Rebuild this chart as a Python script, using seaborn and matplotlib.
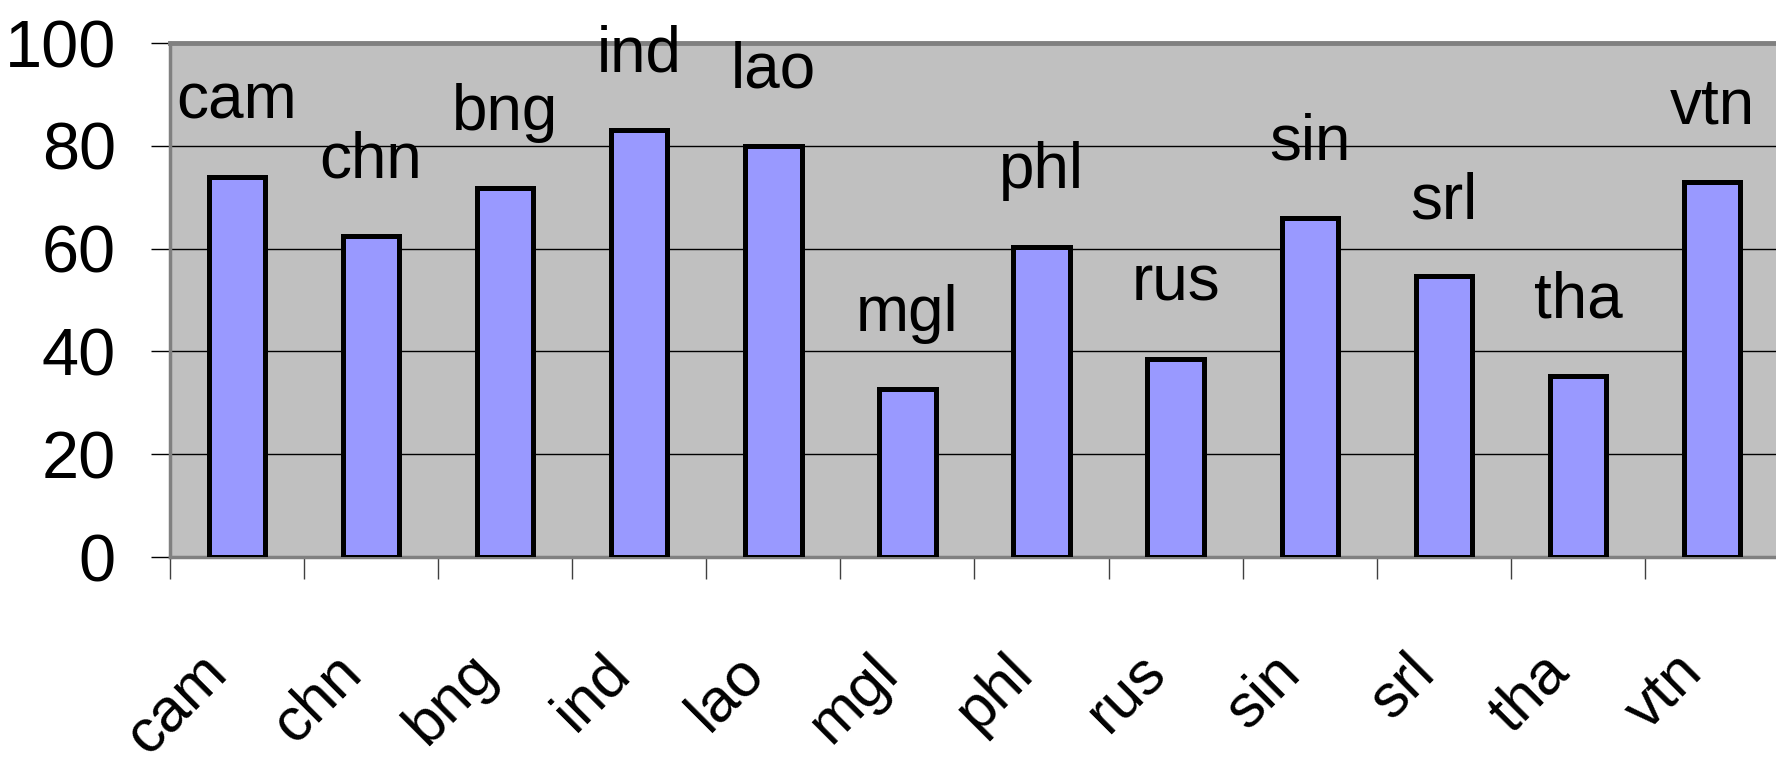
import matplotlib
matplotlib.use("Agg")
import matplotlib.pyplot as plt
import matplotlib.transforms as mtransforms
import seaborn as sns
import pandas as pd

# Data
countries = ["cam", "chn", "bng", "ind", "lao", "mgl", "phl", "rus", "sin", "srl", "tha", "vtn"]
values = [74.0, 62.5, 71.7, 83.1, 79.9, 32.7, 60.4, 38.5, 65.9, 54.6, 35.2, 73.0]
y_ticks = [0, 20, 40, 60, 80, 100]

BAR_COLOR = "#9999FF"
PLOT_BG = "#C0C0C0"
FRAME_GRAY = "#808080"

sns.set_style("white")
plt.rcParams["font.family"] = ["Liberation Sans", "DejaVu Sans"]
plt.rcParams.update({"text.color": "black", "xtick.color": "black", "ytick.color": "black"})

df = pd.DataFrame({"country": countries, "value": values})

fig = plt.figure(figsize=(17.76, 7.68), dpi=100)
ax = fig.add_axes([0.0957, 0.2747, 0.9060, 0.6693])
ax.set_facecolor(PLOT_BG)

sns.barplot(data=df, x="country", y="value", color=BAR_COLOR, saturation=1,
            edgecolor="black", linewidth=3.6, width=0.42, ax=ax, zorder=3)

# category names above each bar
for i, (name, v) in enumerate(zip(countries, values)):
    ax.annotate(name, (i, v), xytext=(0, 42), textcoords="offset points",
                ha="center", va="baseline", fontsize=46, color="black",
                annotation_clip=False)

ax.set_ylim(0, 100)
ax.set_xlim(-0.5, len(countries) - 0.5)
ax.set_yticks(y_ticks)
ax.yaxis.grid(True, color="black", linewidth=1)
ax.set_axisbelow(True)
ax.set_xlabel("")
ax.set_ylabel("")

ax.tick_params(axis="y", which="major", length=14, width=1, color="black",
               labelsize=48, pad=25, left=True, labelcolor="black")
ax.set_xticks(range(len(countries)))
ax.set_xticklabels(countries, rotation=45, ha="right", va="center",
                   rotation_mode="anchor", fontsize=44, color="black")
ax.tick_params(axis="x", which="major", length=0, pad=77)
ax.set_xticks([i - 0.5 for i in range(len(countries) + 1)], minor=True)
ax.tick_params(axis="x", which="minor", length=16, width=1, color="#404040", bottom=True)

# nudge rotated labels a little to the left, as in the original
shift = mtransforms.ScaledTranslation(-0.18, 0, fig.dpi_scale_trans)
for lbl in ax.get_xticklabels():
    lbl.set_transform(lbl.get_transform() + shift)

for side in ["left", "bottom"]:
    ax.spines[side].set_color(FRAME_GRAY)
    ax.spines[side].set_linewidth(2.5)
ax.spines["top"].set_color(FRAME_GRAY)
ax.spines["top"].set_linewidth(3.5)
ax.spines["right"].set_visible(False)

fig.savefig("out.png", dpi=100)
